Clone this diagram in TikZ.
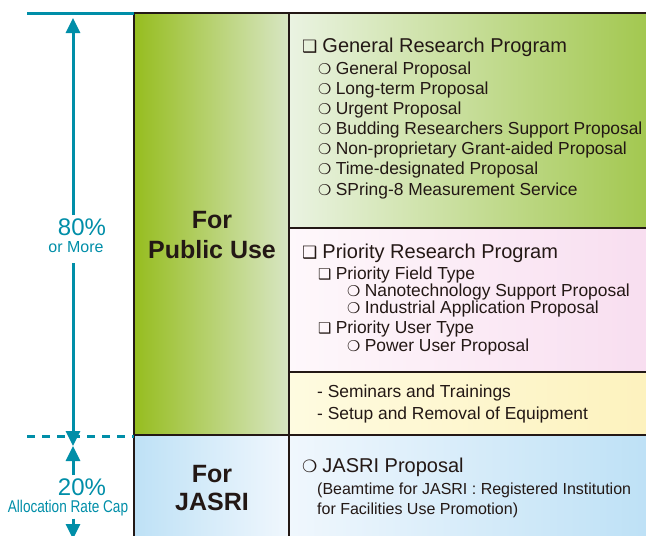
\documentclass[tikz,border=0pt]{standalone}
\usepackage{fontspec}
\setmainfont{Liberation Sans}
\newfontfamily\dingfont[Scale=0.85]{DejaVu Sans}
\newfontfamily\narrowfont[FakeStretch=0.8]{Liberation Sans}
\usetikzlibrary{arrows.meta}
\definecolor{ink}{RGB}{35,24,21}
\definecolor{dimcyan}{RGB}{0,142,168}
\definecolor{pubdark}{RGB}{150,189,31}
\definecolor{publight}{RGB}{216,230,195}
\definecolor{genlight}{RGB}{234,243,226}
\definecolor{gendark}{RGB}{163,200,80}
\definecolor{prilight}{RGB}{254,248,251}
\definecolor{pridark}{RGB}{248,222,240}
\definecolor{semlight}{RGB}{254,251,224}
\definecolor{semdark}{RGB}{253,242,190}
\definecolor{jasdark}{RGB}{190,225,246}
\definecolor{jaslight}{RGB}{240,247,253}
\newcommand{\sqbul}{{\dingfont ❑}\hspace{0.25em}}
\newcommand{\cirbul}{{\dingfont ❍}\hspace{0.25em}}

\begin{document}
\begin{tikzpicture}[x=1pt,y=-1pt,
frame/.style={draw=ink,line width=2.2pt},
dim/.style={dimcyan,line width=3pt},
dimtip/.style={-{Triangle[length=15pt,width=14pt]}},
bigtext/.style={font=\bfseries\fontsize{25}{30}\selectfont,text=ink,anchor=base,inner sep=0pt},
headtext/.style={font=\fontsize{20}{24}\selectfont,text=ink,anchor=base west,inner sep=0pt},
itemtext/.style={font=\fontsize{17.4}{20}\selectfont,text=ink,anchor=base west,inner sep=0pt},
notetext/.style={font=\fontsize{16}{19}\selectfont,text=ink,anchor=base west,inner sep=0pt},
pcttext/.style={font=\fontsize{24}{28}\selectfont,text=dimcyan,anchor=base,inner sep=3pt},
ratetext/.style={text=dimcyan,anchor=base,inner sep=3pt}]
\useasboundingbox (0,0) rectangle (646,536);

% The coloured cells
\shade[left color=pubdark,right color=publight] (134,13) rectangle (289,435);
\shade[left color=genlight,right color=gendark] (289,13) rectangle (646,228);
\shade[left color=prilight,right color=pridark] (289,228) rectangle (646,372);
\shade[left color=semlight,right color=semdark] (289,372) rectangle (646,435);
\shade[left color=jasdark,right color=jaslight] (134,435) rectangle (289,540);
\shade[left color=jaslight,right color=jasdark] (289,435) rectangle (646,540);

% The frame
\draw[frame] (134,540) -- (134,13) -- (646,13);
\draw[frame] (289,13) -- (289,540);
\draw[frame] (289,228) -- (646,228);
\draw[frame] (289,372) -- (646,372);
\draw[frame] (134,435) -- (646,435);

% The left column
\node[bigtext] (for1) at (212,228) {For};
\node[bigtext] (public) at (212,258) {Public Use};
\node[bigtext] (for2) at (212,482) {For};
\node[bigtext] (jasri) at (212,510) {JASRI};

% General Research Program
\node[headtext] (gen) at (302,52) {\sqbul General Research Program};
\foreach \txt [count=\i from 0] in {General Proposal,Long-term Proposal,Urgent Proposal,
  Budding Researchers Support Proposal,Non-proprietary Grant-aided Proposal,
  Time-designated Proposal,SPring-8 Measurement Service}
  \node[itemtext] (gen\i) at (318,{74+20.17*\i}) {\cirbul\txt};

% Priority Research Program
\node[headtext] (pri) at (302,258) {\sqbul Priority Research Program};
\node[itemtext] (field) at (318,279) {\sqbul Priority Field Type};
\node[itemtext] (nano) at (347,296) {\cirbul Nanotechnology Support Proposal};
\node[itemtext] (indus) at (347,313) {\cirbul Industrial Application Proposal};
\node[itemtext] (user) at (318,333) {\sqbul Priority User Type};
\node[itemtext] (power) at (347,351) {\cirbul Power User Proposal};

% Seminars
\node[itemtext] (sem) at (317,397) {- Seminars and Trainings};
\node[itemtext] (setup) at (317,419) {- Setup and Removal of Equipment};

% JASRI Proposal
\node[headtext] (jprop) at (302,472) {\cirbul JASRI Proposal};
\node[notetext] (beam1) at (317,494) {(Beamtime for JASRI : Registered Institution};
\node[notetext] (beam2) at (317,514) {for Facilities Use Promotion)};

% The rates
\coordinate (topl) at (27,13);
\coordinate (topr) at (134,13);
\coordinate (cutl) at (27,436);
\coordinate (cutr) at (134,436);
\coordinate (top80) at (73,18);
\coordinate (mid) at (73,446);
\coordinate (bot20) at (73,539);
\draw[dim] (topl) -- (topr);
\draw[dim,dash pattern=on 8pt off 7pt] (cutl) -- (cutr);
\node[pcttext] (p80) at (82,235) {80\%};
\node[ratetext,font=\fontsize{16}{19}\selectfont] (m80) at (76,252) {or More};
\node[pcttext] (p20) at (82,495) {20\%};
\node[ratetext,font=\narrowfont\fontsize{17}{19}\selectfont] (m20) at (68,512) {Allocation Rate Cap};
\draw[dim,dimtip] (top80 |- p80.north) -- (top80);
\draw[dim,dimtip,shorten <=8pt] (top80 |- m80.south) -- (mid);
\draw[dim,dimtip] (top80 |- p20.north) -- (mid);
\draw[dim,dimtip] (top80 |- m20.south) -- (bot20);
\end{tikzpicture}
\end{document}
